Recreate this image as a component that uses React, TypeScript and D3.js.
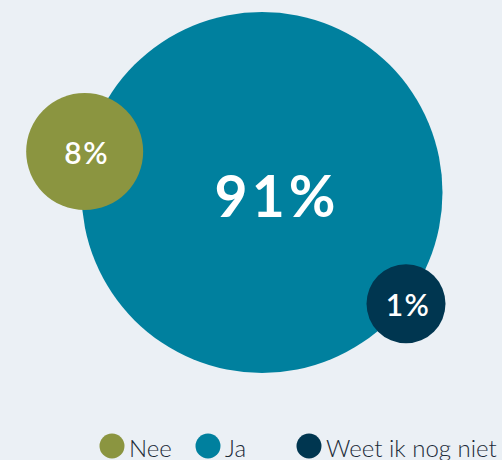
import React from "react";
import * as d3 from "d3";

const categories = ["Nee", "Ja", "Weet ik nog niet"];
const values = [8, 91, 1];
const labels = ["8%", "91%", "1%"];
const colors = ["#8b9540", "#00809e", "#003650"];
// angle (degrees) of each satellite bubble around the main bubble; main bubble is null
const angles = [193, null, 37.7];

const W = 502;
const H = 460;

export default function App() {
  const rScale = d3.scaleLinear().domain([1, 8, 91]).range([39.5, 58.5, 180.5]);
  const mainIdx = values.indexOf(d3.max(values)!);
  const cx0 = 262;
  const cy0 = 192.5;
  const R = rScale(values[mainIdx]);
  const nodes = values.map((v, i) => {
    const r = rScale(v);
    if (i === mainIdx) return { i, r, x: cx0, y: cy0 };
    const a = ((angles[i] as number) * Math.PI) / 180;
    const d = R + 1.5;
    return { i, r, x: cx0 + d * Math.cos(a), y: cy0 + d * Math.sin(a) };
  });
  const order = [mainIdx, ...nodes.map((n) => n.i).filter((i) => i !== mainIdx)];
  const isMain = (i: number) => i === mainIdx;

  const legendX = [112, 208, 309];
  const legendY = 446;

  return (
    <svg
      width={W}
      height={H}
      style={{ position: "absolute", left: 0, top: 0, display: "block" }}
      fontFamily="Lato, 'Open Sans', sans-serif"
    >
      <rect width={W} height={H} fill="#ebf0f5" />
      {order.map((i) => {
        const n = nodes[i];
        return (
          <g key={i}>
            <circle cx={n.x} cy={n.y} r={n.r} fill={colors[i]} />
            <text
              x={n.x + (isMain(i) ? 15 : 2)}
              y={n.y + (isMain(i) ? 2 : 0)}
              textAnchor="middle"
              dominantBaseline="central"
              fill="#ffffff"
              fontWeight={isMain(i) ? 700 : 600}
              fontSize={isMain(i) ? 57 : 30}
              letterSpacing={isMain(i) ? 4 : 1.5}
            >
              {labels[i]}
            </text>
          </g>
        );
      })}
      {categories.map((c, i) => (
        <g key={c}>
          <circle cx={legendX[i]} cy={legendY} r={12.5} fill={colors[i]} />
          <text
            x={legendX[i] + 17}
            y={legendY + 1}
            dominantBaseline="central"
            fill="#1c2b39"
            fontWeight={300}
            fontSize={24}
          >
            {c}
          </text>
        </g>
      ))}
    </svg>
  );
}
